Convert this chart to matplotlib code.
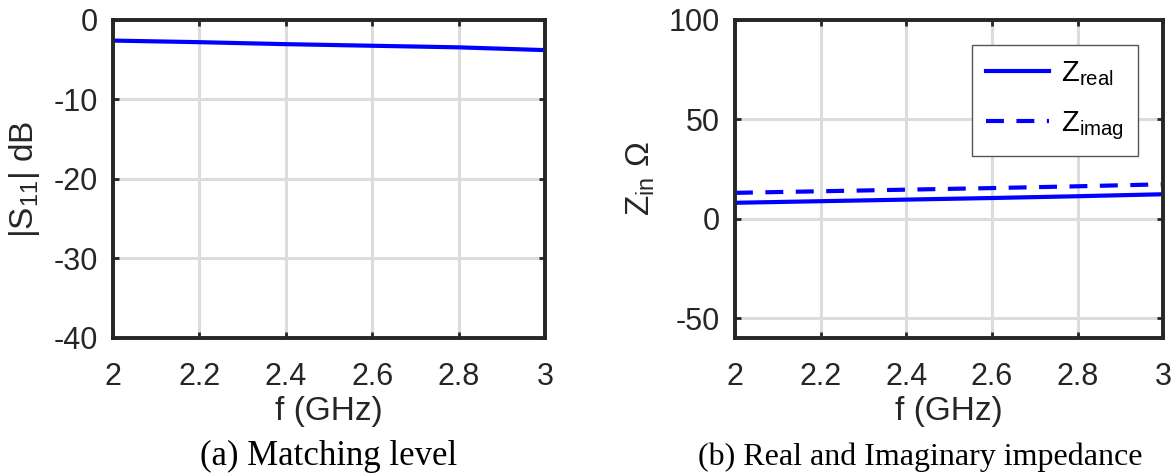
import matplotlib
matplotlib.use('Agg')
import matplotlib.pyplot as plt

freq = [2.0, 2.2, 2.4, 2.6, 2.8, 3.0]
s11_db = [-2.6, -2.8, -3.05, -3.25, -3.45, -3.8]
z_real = [8.0, 8.8, 9.6, 10.4, 11.3, 12.3]
z_imag = [13.0, 13.8, 14.6, 15.4, 16.3, 17.3]

x_ticks = [2, 2.2, 2.4, 2.6, 2.8, 3]
x_ticklabels = ['2', '2.2', '2.4', '2.6', '2.8', '3']
s11_ticks = [-40, -30, -20, -10, 0]
z_ticks = [-50, 0, 50, 100]

plt.rcParams['font.family'] = ['Liberation Sans', 'DejaVu Sans']
plt.rcParams['mathtext.fontset'] = 'custom'
plt.rcParams['mathtext.rm'] = 'Liberation Sans'
plt.rcParams['mathtext.it'] = 'Liberation Sans:italic'

blue = '#0000ff'
spine_colour = '#262626'
grid_colour = '#dcdcdc'
fs = 22

fig = plt.figure(figsize=(11.75, 4.74), dpi=100, facecolor='white')
ax1 = fig.add_axes([0.096, 0.287, 0.368, 0.671])
ax2 = fig.add_axes([0.6255, 0.287, 0.3645, 0.671])


def style(ax):
    for side in ['left', 'right', 'top', 'bottom']:
        ax.spines[side].set_color(spine_colour)
        ax.spines[side].set_linewidth(2.8)
    ax.grid(True, color=grid_colour, linewidth=2.2)
    ax.set_axisbelow(True)
    ax.tick_params(direction='in', length=4, width=2, colors=spine_colour,
                   labelsize=fs, top=True, right=True)
    ax.tick_params(axis='x', pad=17)
    ax.tick_params(axis='y', pad=11)
    ax.set_xlim(2, 3)
    ax.set_xticks(x_ticks)
    ax.set_xticklabels(x_ticklabels)
    ax.set_xlabel('f (GHz)', fontsize=24, color=spine_colour, labelpad=3)


ax1.plot(freq, s11_db, color=blue, linewidth=3)
style(ax1)
ax1.set_ylim(-40, 0)
ax1.set_yticks(s11_ticks)
ax1.set_yticklabels([str(t) for t in s11_ticks])
ax1.set_ylabel(r'|S$_{11}$| dB', fontsize=24, color=spine_colour, labelpad=8)

ax2.plot(freq, z_real, color=blue, linewidth=3, label=r'Z$_{\mathrm{real}}$')
ax2.plot(freq, z_imag, color=blue, linewidth=3, linestyle=(0, (4.3, 3.0)),
         label=r'Z$_{\mathrm{imag}}$')
style(ax2)
ax2.set_ylim(-60, 100)
ax2.set_yticks(z_ticks)
ax2.set_yticklabels([str(t) for t in z_ticks])
ax2.set_ylabel(r'Z$_{\mathrm{in}}$ $\Omega$', fontsize=24, color=spine_colour, labelpad=8)

leg = ax2.legend(loc='upper right', bbox_to_anchor=(0.942, 0.921), fontsize=21,
                 fancybox=False, framealpha=1, edgecolor='#555555',
                 handlelength=2.15, handletextpad=0.4, borderpad=0.5,
                 labelspacing=0.7, borderaxespad=0)
leg.get_frame().set_linewidth(1)

cap_font = ['Liberation Serif', 'DejaVu Serif']
fig.text(0.28, 1 - 465 / 474, '(a) Matching level', ha='center', va='baseline',
         fontsize=25, family=cap_font)
fig.text(920 / 1175, 1 - 465 / 474, '(b) Real and Imaginary impedance', ha='center',
         va='baseline', fontsize=23, family=cap_font)

fig.savefig('out.png', dpi=100, facecolor='white')
